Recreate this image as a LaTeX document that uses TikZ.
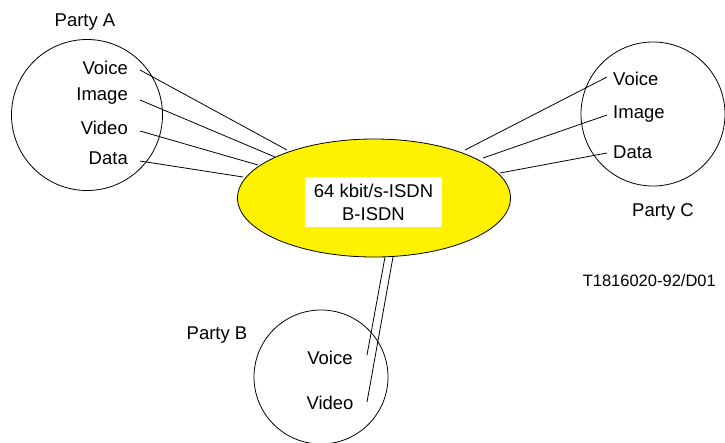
\documentclass[tikz,border=0pt]{standalone}
\usepackage{fontspec}
\setmainfont{Liberation Sans}
\usetikzlibrary{shapes.geometric}
\tikzset{
  party/.style={draw, circle, line width=0.8pt},
  lbl/.style={font=\fontsize{18.5}{21}\selectfont, inner sep=0pt},
  link/.style={line width=0.8pt},
}
\begin{document}
\begin{tikzpicture}[x=1pt, y=-1pt]
\useasboundingbox (0,0) rectangle (725,442);

% Network cloud
\node[draw, ellipse, fill=yellow, line width=0.8pt, minimum width=273pt, minimum height=118pt, inner sep=0pt] (net) at (374,198) {};
\node[fill=white, minimum width=137pt, minimum height=50pt, inner sep=0pt, align=center, font=\fontsize{18.5}{23}\selectfont] (netlbl) at (373.5,202) {64 kbit/s-ISDN\\B-ISDN};

% Party A
\node[party, minimum size=151pt, inner sep=0pt] (pa) at (87,115) {};
\node[lbl] (patitle) at (85,22) {Party A};
\node[lbl, anchor=east] (avoice) at (128,68) {Voice};
\node[lbl, anchor=east] (aimage) at (128,96) {Image};
\node[lbl, anchor=east] (avideo) at (128,128) {Video};
\node[lbl, anchor=east] (adata) at (128,158) {Data};
\coordinate (av) at (140,70);
\coordinate (ai) at (140,100);
\coordinate (ad1) at (140,131);
\coordinate (ad2) at (140,161);
\coordinate (nav) at (287,150);
\coordinate (nai) at (275,157);
\coordinate (nad1) at (258,165);
\coordinate (nad2) at (243,177);
\draw[link] (av) -- (nav);
\draw[link] (ai) -- (nai);
\draw[link] (ad1) -- (nad1);
\draw[link] (ad2) -- (nad2);

% Party C
\node[party, minimum size=144pt, inner sep=0pt] (pc) at (653,114) {};
\node[lbl] (pctitle) at (663,212) {Party C};
\node[lbl, anchor=west] (cvoice) at (613,79) {Voice};
\node[lbl, anchor=west] (cimage) at (613,114) {Image};
\node[lbl, anchor=west] (cdata) at (613,152) {Data};
\coordinate (cv) at (607,77);
\coordinate (ci) at (607,115);
\coordinate (cd) at (607,153);
\coordinate (ncv) at (465,150);
\coordinate (nci) at (483,158);
\coordinate (ncd) at (500,173);
\draw[link] (cv) -- (ncv);
\draw[link] (ci) -- (nci);
\draw[link] (cd) -- (ncd);

% Party B
\node[party, minimum size=134pt, inner sep=0pt] (pb) at (321,377) {};
\node[lbl] (pbtitle) at (217,335) {Party B};
\node[lbl] (bvoice) at (330,358) {Voice};
\node[lbl] (bvideo) at (330,403) {Video};
\coordinate (bv) at (367,355);
\coordinate (bd) at (367,402);
\coordinate (nbv) at (385,257);
\coordinate (nbd) at (393,257);
\draw[link] (bv) -- (nbv);
\draw[link] (bd) -- (nbd);

% Figure reference
\node[lbl, font=\fontsize{16.5}{19}\selectfont, anchor=east] (figref) at (716,281) {T1816020-92/D01};
\end{tikzpicture}
\end{document}
